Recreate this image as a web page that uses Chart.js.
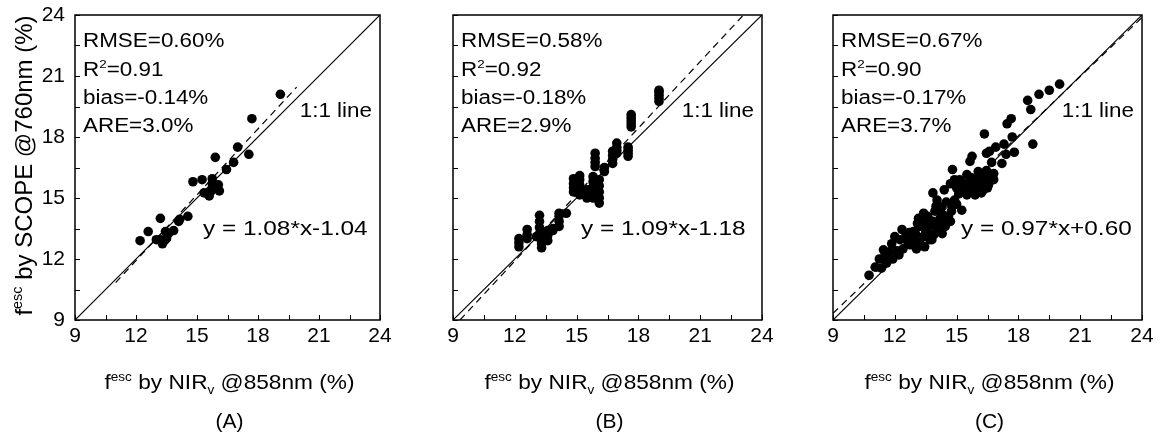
<!DOCTYPE html>
<html>
<head>
<meta charset="utf-8">
<script src="https://cdn.jsdelivr.net/npm/chart.js@4.4.0/dist/chart.umd.min.js"></script>
<style>
html,body{margin:0;padding:0;background:#fff;}
#wrap{position:relative;width:1162px;height:437px;}
#wrap canvas{position:absolute;left:0;top:0;}
</style>
</head>
<body>
<div id="wrap">
  <canvas id="chartA" width="1162" height="437"></canvas>
  <canvas id="chartB" width="1162" height="437"></canvas>
  <canvas id="chartC" width="1162" height="437"></canvas>
</div>
<script>
// axes (same for the three panels)
const axisMin = 9, axisMax = 24;
const tickStep = 1.5;
const tickLabels = [9, 12, 15, 18, 21, 24];

// (A) points
const xA = [19.1,17.7,17.0,17.55,15.9,16.8,16.45,14.8,15.25,15.75,15.75,16.05,16.1,15.35,15.6,15.7,14.55,14.15,14.1,13.2,12.6,12.2,13.0,13.3,13.5,13.45,13.85,13.6,13.2,13.4];
const yA = [20.1,18.9,17.5,17.15,17.0,16.75,16.4,15.8,15.9,15.95,15.7,15.65,15.35,15.25,15.1,15.35,14.1,13.95,13.85,14.0,13.35,12.9,12.95,12.75,13.0,13.35,13.4,13.25,12.95,12.9];

// (B) points
const xB = [19.0,19.0,19.0,19.0,19.0, 17.65,17.65,17.65,17.65,17.65, 17.5,17.5,17.5,17.5, 16.95,16.95,16.95,16.95,
  16.75,16.75,16.75,16.75, 16.35,16.35, 15.9,15.9,15.9,15.9, 14.85,14.85,14.85,14.85, 15.15,15.15,15.15,15.15,15.15,
  15.5,15.5,15.5, 15.8,15.8,15.8,15.8,15.8, 16.1,16.1,16.1,16.1,16.1, 14.5, 14.15,14.15,14.15,14.15, 13.85,13.85,
  13.2,13.2,13.2,13.2, 13.6,13.6,13.6, 13.3,13.3,13.3, 13.05, 12.6,12.6,12.6, 12.2,12.2,12.2];
const yB = [19.75,19.9,20.05,20.2,20.3, 18.5,18.65,18.8,18.95,19.1, 17.05,17.2,17.35,17.5, 17.2,17.35,17.5,17.7,
  16.7,16.9,17.1,17.3, 16.3,16.5, 16.55,16.75,16.95,17.2, 15.3,15.5,15.7,15.95, 15.15,15.4,15.65,15.9,16.1,
  15.0,15.2,15.4, 15.0,15.3,15.55,15.8,16.05, 14.75,15.0,15.3,15.6,15.9, 14.25, 13.6,13.85,14.1,14.25, 13.4,13.5,
  13.25,13.55,13.85,14.15, 12.9,13.15,13.4, 12.55,12.75,12.95, 13.1, 13.0,13.2,13.45, 12.6,12.8,13.0];

// (C) points
const xC = [20.0,19.5,19.0,18.45,18.6,17.65,17.45,17.7,18.7,16.35,17.3,16.9,16.6,16.45,17.4,17.8,15.75,15.65,16.7,17.2,
  14.8,15.5,16.05,16.45,16.3,16.8,15.15,14.7,15.25,15.0,15.65,15.95,16.55,15.5,15.9,13.85,14.4,14.05,15.25,14.75,
  13.95,14.25,13.4,13.15,13.55,13.85,14.2,14.5,14.45,14.05,13.6,13.2,13.0,13.4,13.7,12.9,13.05,12.75,12.35,12.55,
  12.25,11.85,11.75,11.45,11.5,11.25,11.05,11.35,10.75,12.0,12.8,13.2,13.45,
  15.2,15.4,15.8,16.0,16.2,16.4,16.6,15.3,15.6,15.9,16.2,16.5,16.1,15.7,14.9,15.1,16.8,16.3,
  13.3,13.5,13.7,13.9,14.1,14.3,14.6,14.8,14.5,14.9,12.6,12.9,13.1,12.4,12.1,12.9,13.6,14.0,14.3,13.8,11.9,12.2,11.6,12.7,14.7,15.0];
const yC = [20.6,20.3,20.1,19.8,19.35,18.9,18.65,18.0,17.65,18.15,17.65,17.5,17.3,17.2,17.15,17.25,17.05,16.8,16.75,16.7,
  16.4,16.15,16.3,16.35,16.05,15.9,15.9,15.7,15.55,15.5,15.65,15.55,15.65,15.15,15.15,15.25,15.4,14.9,14.4,14.35,
  14.35,14.55,14.25,14.0,13.9,13.85,14.0,13.9,13.6,13.45,13.5,13.6,13.25,13.1,12.95,12.95,12.5,12.7,13.45,13.2,
  12.95,12.75,12.35,12.45,12.1,12.0,11.6,11.55,11.2,13.1,13.0,12.85,12.6,
  15.8,15.7,15.9,15.7,15.8,15.6,16.0,15.3,15.45,15.35,15.25,15.5,16.1,16.0,15.9,15.2,16.2,15.4,
  13.7,13.3,13.65,13.2,13.7,14.2,14.1,14.6,14.8,14.9,12.9,13.35,13.75,12.5,12.4,12.7,14.1,14.6,13.25,12.95,12.0,12.2,11.8,13.3,13.85,14.7];

// regression lines and statistics
const fitSlope = [1.08, 1.09, 0.97];
const fitIntercept = [-1.04, -1.18, 0.60];
const fitStartX = [11.0, 9.34, 9.0];
const fitEndX = [19.9, 23.1, 24.0];
const eqText = ['y = 1.08*x-1.04', 'y = 1.09*x-1.18', 'y = 0.97*x+0.60'];
const rmse = ['0.60%', '0.58%', '0.67%'];
const r2 = ['0.91', '0.92', '0.90'];
const bias = ['-0.14%', '-0.18%', '-0.17%'];
const are = ['3.0%', '2.9%', '3.7%'];
const panelLetters = ['(A)', '(B)', '(C)'];

const FONT = '"Liberation Sans", Arial, sans-serif';

// draws text made of [string, mode] parts; mode 1 = superscript, -1 = subscript
function drawRich(ctx, parts, x, y, size, align, sx) {
  sx = sx || 1;
  let w = 0;
  parts.forEach(p => { ctx.font = (p[1] ? size * 0.6 : size) + 'px ' + FONT; w += ctx.measureText(p[0]).width; });
  ctx.save();
  ctx.translate(x, y);
  ctx.scale(sx, 1);
  let cx = align === 'center' ? -w / 2 : align === 'right' ? -w : 0;
  ctx.textAlign = 'left'; ctx.textBaseline = 'alphabetic'; ctx.fillStyle = '#000';
  parts.forEach(p => {
    const s = p[1] ? size * 0.6 : size;
    ctx.font = s + 'px ' + FONT;
    const dy = p[1] === 1 ? -size * 0.4 : p[1] === -1 ? size * 0.25 : 0;
    ctx.fillText(p[0], cx, dy);
    cx += ctx.measureText(p[0]).width;
  });
  ctx.restore();
}

const decor = {
  id: 'decor',
  afterDraw(chart, args, o) {
    const {ctx, chartArea: a, scales: {x, y}} = chart;
    const i = o.index;
    ctx.save();
    ctx.strokeStyle = '#000';
    ctx.lineWidth = 1;
    ctx.beginPath();
    x.ticks.forEach(t => { const px = Math.round(x.getPixelForValue(t.value)) + 0.5; ctx.moveTo(px, a.bottom); ctx.lineTo(px, a.bottom - 5); });
    y.ticks.forEach(t => { const py = Math.round(y.getPixelForValue(t.value)) + 0.5; ctx.moveTo(a.left, py); ctx.lineTo(a.left + 5, py); });
    ctx.stroke();
    ctx.lineWidth = 1.5;
    ctx.strokeRect(a.left, a.top, a.right - a.left, a.bottom - a.top);

    const L = a.left + 8, sx = 1.15, fs = 19.5;
    drawRich(ctx, [['RMSE=' + rmse[i], 0]], L, a.top + 32, fs, 'left', sx);
    drawRich(ctx, [['R', 0], ['2', 1], ['=' + r2[i], 0]], L, a.top + 61, fs, 'left', sx);
    drawRich(ctx, [['bias=' + bias[i], 0]], L, a.top + 89, fs, 'left', sx);
    drawRich(ctx, [['ARE=' + are[i], 0]], L, a.top + 117, fs, 'left', sx);
    drawRich(ctx, [['1:1 line', 0]], a.right - 8, a.top + 102, fs, 'right', sx);
    drawRich(ctx, [[eqText[i], 0]], a.left + 128, a.top + 220, fs, 'left', 1.25);

    const mid = (a.left + a.right) / 2 + 2;
    drawRich(ctx, [['f', 0], ['esc', 1], [' by NIR', 0], ['v', -1], [' @858nm (%)', 0]], mid, 389, 21, 'center', 1.08);
    drawRich(ctx, [[panelLetters[i], 0]], mid, 428, 21, 'center');
    if (i === 0) {
      ctx.save();
      ctx.translate(32, (a.top + a.bottom) / 2 - 2);
      ctx.rotate(-Math.PI / 2);
      drawRich(ctx, [['f', 0], ['esc', 1], [' by SCOPE @760nm (%)', 0]], 0, 0, 24, 'center');
      ctx.restore();
    }
    ctx.restore();
  }
};

function axis(showLabels, fitFn, pad) {
  return {
    type: 'linear', min: axisMin, max: axisMax,
    grid: {display: false, drawTicks: false},
    border: {display: false},
    ticks: {
      display: showLabels, stepSize: tickStep, autoSkip: false, maxRotation: 0, padding: pad,
      color: '#000', font: {family: FONT, size: 21},
      callback: v => tickLabels.includes(v) ? String(v) : ''
    },
    afterFit: fitFn
  };
}

function makePanel(id, i, xs, ys, yAxisWidth, padRight, showY) {
  const s = fitSlope[i], b = fitIntercept[i];
  new Chart(document.getElementById(id), {
    type: 'scatter',
    data: {
      datasets: [
        {data: xs.map((v, k) => ({x: v, y: ys[k]})), pointRadius: 4.8, pointHoverRadius: 4.8,
         backgroundColor: '#000', borderWidth: 0, pointBorderWidth: 0},
        {data: [{x: axisMin, y: axisMin}, {x: axisMax, y: axisMax}], showLine: true, pointRadius: 0,
         borderColor: '#000', borderWidth: 1.2},
        {data: [{x: fitStartX[i], y: s * fitStartX[i] + b}, {x: fitEndX[i], y: s * fitEndX[i] + b}], showLine: true,
         pointRadius: 0, borderColor: '#000', borderWidth: 1.2, borderDash: [7, 5]}
      ]
    },
    options: {
      responsive: false, animation: false, devicePixelRatio: 1,
      layout: {padding: {top: 15, right: padRight, bottom: 0, left: 0}, autoPadding: false},
      plugins: {legend: {display: false}, tooltip: {enabled: false}, decor: {index: i}},
      scales: {
        x: axis(true, sc => { sc.height = 117; sc.paddingLeft = 0; sc.paddingRight = 0; }, 4),
        y: axis(showY, sc => { sc.width = yAxisWidth; sc.paddingTop = 0; sc.paddingBottom = 0; }, 10)
      }
    },
    plugins: [decor]
  });
}

makePanel('chartA', 0, xA, yA, 75, 1162 - 380, true);
makePanel('chartB', 1, xB, yB, 453, 1162 - 762, false);
makePanel('chartC', 2, xC, yC, 833, 1162 - 1142, false);
</script>
</body>
</html>
